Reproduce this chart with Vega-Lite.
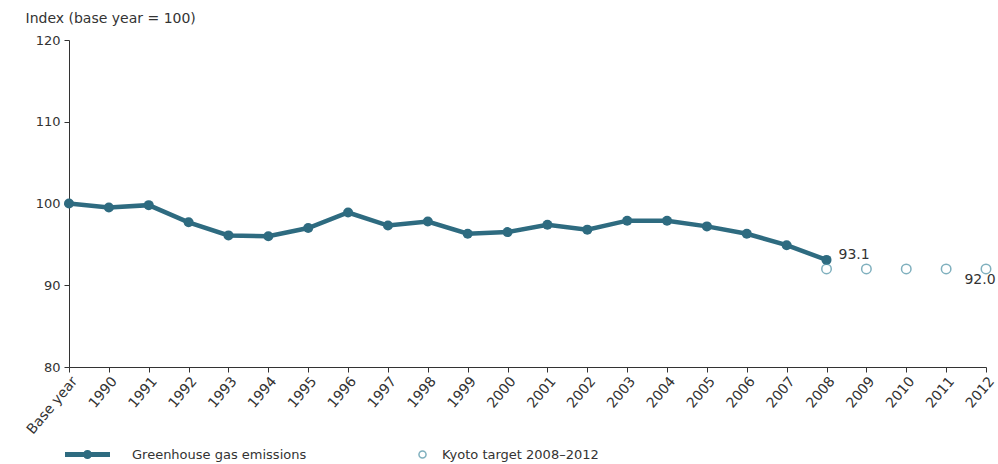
{
  "$schema": "https://vega.github.io/schema/vega-lite/v6.json",
  "autosize": {"type": "none"},
  "width": 917,
  "height": 327,
  "padding": {"left": 69, "top": 40, "right": 12, "bottom": 97},
  "background": "white",
  "config": {
    "font": "DejaVu Sans",
    "view": {"stroke": null},
    "axis": {"labelFont": "DejaVu Sans", "labelFontSize": 13, "labelColor": "#333333", "domainColor": "#333333", "tickColor": "#333333", "grid": false, "titleFont": "DejaVu Sans", "titleFontWeight": "normal", "titleFontSize": 14, "titleColor": "#333333"},
    "legend": {"labelFont": "DejaVu Sans", "labelFontSize": 13, "labelColor": "#333333", "labelLimit": 400}
  },
  "data": {"values": [
    {"year": "Base year", "value": 100.0, "series": "Greenhouse gas emissions", "label": ""},
    {"year": "1990", "value": 99.5, "series": "Greenhouse gas emissions", "label": ""},
    {"year": "1991", "value": 99.8, "series": "Greenhouse gas emissions", "label": ""},
    {"year": "1992", "value": 97.7, "series": "Greenhouse gas emissions", "label": ""},
    {"year": "1993", "value": 96.1, "series": "Greenhouse gas emissions", "label": ""},
    {"year": "1994", "value": 96.0, "series": "Greenhouse gas emissions", "label": ""},
    {"year": "1995", "value": 97.0, "series": "Greenhouse gas emissions", "label": ""},
    {"year": "1996", "value": 98.9, "series": "Greenhouse gas emissions", "label": ""},
    {"year": "1997", "value": 97.3, "series": "Greenhouse gas emissions", "label": ""},
    {"year": "1998", "value": 97.8, "series": "Greenhouse gas emissions", "label": ""},
    {"year": "1999", "value": 96.3, "series": "Greenhouse gas emissions", "label": ""},
    {"year": "2000", "value": 96.5, "series": "Greenhouse gas emissions", "label": ""},
    {"year": "2001", "value": 97.4, "series": "Greenhouse gas emissions", "label": ""},
    {"year": "2002", "value": 96.8, "series": "Greenhouse gas emissions", "label": ""},
    {"year": "2003", "value": 97.9, "series": "Greenhouse gas emissions", "label": ""},
    {"year": "2004", "value": 97.9, "series": "Greenhouse gas emissions", "label": ""},
    {"year": "2005", "value": 97.2, "series": "Greenhouse gas emissions", "label": ""},
    {"year": "2006", "value": 96.3, "series": "Greenhouse gas emissions", "label": ""},
    {"year": "2007", "value": 94.9, "series": "Greenhouse gas emissions", "label": ""},
    {"year": "2008", "value": 93.1, "series": "Greenhouse gas emissions", "label": "93.1"},
    {"year": "2008", "value": 92.0, "series": "Kyoto target 2008–2012", "label": ""},
    {"year": "2009", "value": 92.0, "series": "Kyoto target 2008–2012", "label": ""},
    {"year": "2010", "value": 92.0, "series": "Kyoto target 2008–2012", "label": ""},
    {"year": "2011", "value": 92.0, "series": "Kyoto target 2008–2012", "label": ""},
    {"year": "2012", "value": 92.0, "series": "Kyoto target 2008–2012", "label": "92.0"}
  ]},
  "encoding": {
    "x": {
      "field": "year", "type": "ordinal", "sort": null,
      "scale": {"type": "point", "padding": 0, "domain": ["Base year","1990","1991","1992","1993","1994","1995","1996","1997","1998","1999","2000","2001","2002","2003","2004","2005","2006","2007","2008","2009","2010","2011","2012"]},
      "axis": {"title": null, "labelAngle": -50, "labelAlign": "right", "labelBaseline": "top", "labelPadding": 2, "tickSize": 5, "labelFontSize": 14}
    },
    "y": {
      "field": "value", "type": "quantitative",
      "scale": {"domain": [80, 120], "nice": false, "zero": false},
      "axis": {"title": "Index (base year = 100)", "values": [80, 90, 100, 110, 120], "tickSize": 5, "labelPadding": 4, "titleAngle": 0, "titleAlign": "left", "titleBaseline": "middle", "titleX": -44, "titleY": -22}
    }
  },
  "layer": [
    {
      "transform": [{"filter": "datum.series === 'Greenhouse gas emissions'"}],
      "mark": {"type": "line", "strokeWidth": 4.5, "point": {"filled": true, "size": 100}},
      "encoding": {
        "color": {
          "field": "series", "type": "nominal",
          "scale": {"range": ["#2e6b80"]},
          "legend": {"title": null, "orient": "none", "legendX": -4, "legendY": 392, "symbolType": "M-1,-0.11H1V0.11H-1Z M-0.2,0A0.2,0.2 0 1,1 0.2,0A0.2,0.2 0 1,1 -0.2,0Z", "symbolSize": 2025, "symbolStrokeWidth": 0, "labelOffset": 22}
        }
      }
    },
    {
      "transform": [{"filter": "datum.series === 'Kyoto target 2008–2012'"}],
      "mark": {"type": "point", "filled": false, "size": 90, "strokeWidth": 1.5, "color": "#4a8fa3"},
      "encoding": {
        "shape": {
          "field": "series", "type": "nominal",
          "scale": {"range": ["circle"]},
          "legend": {"title": null, "orient": "none", "legendX": 347, "legendY": 408, "symbolSize": 50, "symbolStrokeColor": "#4a8fa3", "symbolStrokeWidth": 1.5, "labelOffset": 13}
        }
      }
    },
    {
      "transform": [{"filter": "datum.series === 'Greenhouse gas emissions' && datum.label !== ''"}],
      "mark": {"type": "text", "align": "left", "baseline": "bottom", "dx": 12, "dy": 2, "fontSize": 14, "color": "#333333"},
      "encoding": {"text": {"field": "label"}}
    },
    {
      "transform": [{"filter": "datum.series === 'Kyoto target 2008–2012' && datum.label !== ''"}],
      "mark": {"type": "text", "align": "center", "baseline": "top", "dx": -6, "dy": 4, "fontSize": 14, "color": "#333333"},
      "encoding": {"text": {"field": "label"}}
    }
  ]
}
